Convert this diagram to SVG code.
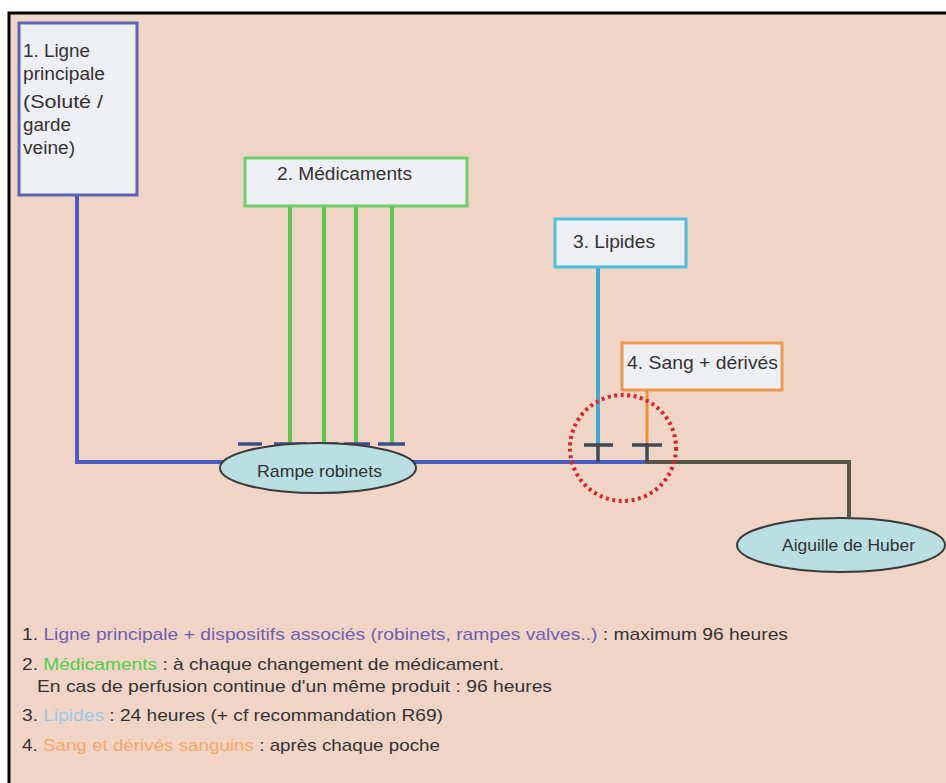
<svg xmlns="http://www.w3.org/2000/svg" width="946" height="783" viewBox="0 0 946 783">
<style>
.t{font-family:"Liberation Sans",Arial,sans-serif;fill:#333;}
.n{font-size:17.5px;}
.l{font-size:17px;}
.box{fill:#eeeff2;stroke-width:3;}
.ell{fill:#b9dfe3;stroke:#3a3a3a;stroke-width:2;}
</style>
<rect x="0" y="0" width="946" height="783" fill="#fff"/>
<rect x="9" y="13" width="937" height="770" fill="#f0d5c6"/>
<path d="M9 783V13H946" fill="none" stroke="#000" stroke-width="3"/>
<g id="connectors" fill="none">
<path d="M77 196V462H240" stroke="#4a5cbd" stroke-width="4"/>
<path d="M405 462H645" stroke="#4a5cbd" stroke-width="4"/>
<path d="M645 462H849V517" stroke="#555648" stroke-width="4"/>
<g stroke="#59c94e" stroke-width="4">
<path d="M290 207V443"/><path d="M324 207V443"/><path d="M356 207V443"/><path d="M392 207V443"/>
</g>
<g stroke="#3d4d86" stroke-width="3.5">
<path d="M238 444H262M274 444H306M314 444H338M344 444H370M378 444H405"/>
</g>
<path d="M598 268V445" stroke="#3fa9d2" stroke-width="4"/>
<path d="M647 391V445" stroke="#f09030" stroke-width="3"/>
<g stroke="#3f4a55" stroke-width="3.5">
<path d="M584 445H613M598 445V462"/>
<path d="M632 445H662M647 445V462"/>
</g>
<circle cx="623" cy="448" r="53" stroke="#d8242c" stroke-width="4" stroke-dasharray="3 3.5"/>
</g>
<g id="n1">
<rect class="box" x="19" y="23" width="118" height="172" stroke="#5a66b4"/>
<text class="t n" x="23" y="57" textLength="67" lengthAdjust="spacingAndGlyphs">1. Ligne</text>
<text class="t n" x="23" y="80" textLength="82" lengthAdjust="spacingAndGlyphs">principale</text>
<text class="t n" x="23" y="108" textLength="80" lengthAdjust="spacingAndGlyphs">(Soluté /</text>
<text class="t n" x="23" y="131" textLength="48" lengthAdjust="spacingAndGlyphs">garde</text>
<text class="t n" x="23" y="154" textLength="52" lengthAdjust="spacingAndGlyphs">veine)</text>
</g>
<g id="n2">
<rect class="box" x="245" y="158" width="222" height="48" stroke="#6fcd6a"/>
<text class="t n" x="277" y="180" textLength="135" lengthAdjust="spacingAndGlyphs">2. Médicaments</text>
</g>
<g id="n3">
<rect class="box" x="555" y="219" width="131" height="48" stroke="#4cbfdc"/>
<text class="t n" x="573" y="248" textLength="82" lengthAdjust="spacingAndGlyphs">3. Lipides</text>
</g>
<g id="n4">
<rect class="box" x="622" y="343" width="160" height="47" stroke="#ee9a4e"/>
<text class="t n" x="627" y="369" textLength="151" lengthAdjust="spacingAndGlyphs">4. Sang + dérivés</text>
</g>
<g id="rampe">
<ellipse class="ell" cx="318" cy="468" rx="98" ry="25"/>
<text class="t" x="257" y="477" font-size="17" textLength="125" lengthAdjust="spacingAndGlyphs">Rampe robinets</text>
</g>
<g id="huber">
<ellipse class="ell" cx="841" cy="545" rx="104" ry="27"/>
<text class="t" x="782" y="551" font-size="17" textLength="133" lengthAdjust="spacingAndGlyphs">Aiguille de Huber</text>
</g>
<g id="legend" class="t l">
<text x="22" y="640" textLength="766" lengthAdjust="spacingAndGlyphs">1. <tspan fill="#6f5fb0">Ligne principale + dispositifs associés (robinets, rampes valves..)</tspan> : maximum 96 heures</text>
<text x="22" y="670" textLength="482" lengthAdjust="spacingAndGlyphs">2. <tspan fill="#4fce46">Médicaments</tspan> : à chaque changement de médicament.</text>
<text x="37" y="692" textLength="515" lengthAdjust="spacingAndGlyphs">En cas de perfusion continue d'un même produit : 96 heures</text>
<text x="22" y="721" textLength="421" lengthAdjust="spacingAndGlyphs">3. <tspan fill="#9cc9e8">Lipides</tspan> : 24 heures (+ cf recommandation R69)</text>
<text x="22" y="751" textLength="418" lengthAdjust="spacingAndGlyphs">4. <tspan fill="#f5a86a">Sang et dérivés sanguins</tspan> : après chaque poche</text>
</g>
</svg>
